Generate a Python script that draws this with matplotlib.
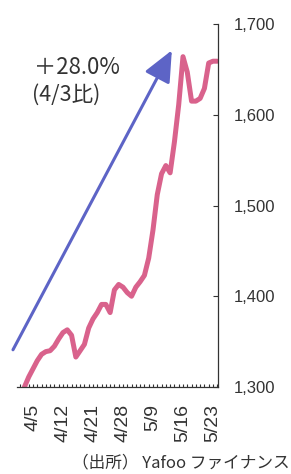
import numpy as np
import matplotlib
matplotlib.use('Agg')
import matplotlib.pyplot as plt

plt.rcParams['font.family'] = ['Noto Sans CJK JP', 'DejaVu Sans']

# daily closes, one per trading day (first two points are before 4/5)
prices = [1300, 1311, 1320, 1329, 1336, 1339, 1340, 1345, 1353, 1360,
          1363, 1357, 1333, 1340, 1347, 1365, 1375, 1382, 1391, 1391,
          1382, 1407, 1413, 1410, 1404, 1400, 1410, 1416, 1423, 1442,
          1473, 1512, 1535, 1544, 1536, 1570, 1611, 1664, 1647, 1615,
          1615, 1618, 1629, 1657, 1659, 1659]
date_labels = ['4/5', '4/12', '4/21', '4/28', '5/9', '5/16', '5/23']
label_every = 7
y_ticks = [1300, 1400, 1500, 1600, 1700]

x = np.arange(len(prices)) - 2

fig = plt.figure(figsize=(2.91, 4.74), dpi=100)
ax = fig.add_axes([17/291, 87/474, 201/291, 363/474])

ax.plot(x, prices, color='#d9628c', lw=3.6, solid_joinstyle='round',
        solid_capstyle='round')

ax.set_xlim(-3.73, 43.17)
ax.set_ylim(1300, 1700)

# trend arrow
ax.annotate('', xy=(32.4, 1671), xytext=(-4.67, 1341),
            arrowprops=dict(arrowstyle='-|>,head_length=1.9,head_width=0.85',
                            color='#5d64c6', lw=2.2, shrinkA=0, shrinkB=0),
            annotation_clip=False)
fig.text(34/291, 1 - 68/474, '＋28.0%', fontsize=16, color='#333333',
         ha='left', va='center')
fig.text(32/291, 1 - 95/474, '(4/3比)', fontsize=15.5, color='#333333',
         ha='left', va='center')

for s in ['top', 'left']:
    ax.spines[s].set_visible(False)
for s in ['right', 'bottom']:
    ax.spines[s].set_linewidth(0.9)
    ax.spines[s].set_color('#333333')

ax.yaxis.tick_right()
ax.set_yticks(y_ticks)
ax.set_yticklabels([f'{v:,}' for v in y_ticks], family='Liberation Sans')
ax.tick_params(axis='y', direction='in', length=3.6, width=0.8, pad=11,
               labelsize=12, colors='#333333')

ax.set_xticks(np.arange(len(date_labels)) * label_every)
ax.set_xticklabels(date_labels, rotation=90, family='Liberation Sans')
ax.set_xticks(np.arange(-3, 44), minor=True)
ax.tick_params(axis='x', which='both', direction='in', length=2.5, width=0.8,
               colors='#333333')
ax.tick_params(axis='x', which='major', pad=12, labelsize=14)

fig.text(290/291, 1 - 463/474, '（出所） Yafoo ファイナンス', fontsize=12,
         color='#333333', ha='right', va='center')

fig.savefig('out.png', dpi=100)
